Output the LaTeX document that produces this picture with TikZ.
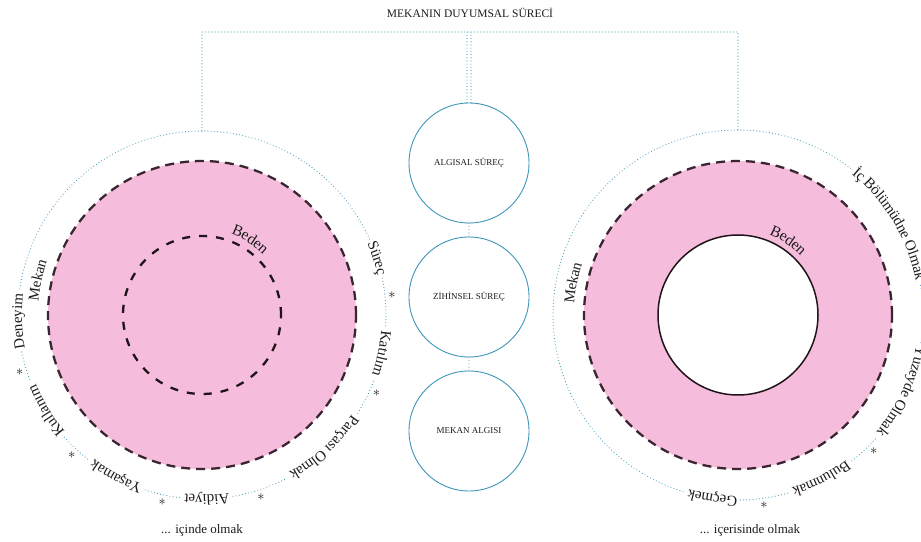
\documentclass[tikz,border=0pt]{standalone}
\usepackage{fontspec}
\setmainfont{Liberation Serif}
\usetikzlibrary{decorations.text,calc}
\definecolor{dotblue}{HTML}{4A9FBE}
\definecolor{ringblue}{HTML}{3F97BA}
\definecolor{pinkfill}{HTML}{F6BCDC}
\definecolor{dashcol}{HTML}{3A2633}
\definecolor{innercol}{HTML}{1E1419}
\definecolor{txt}{HTML}{1C1C1C}
\newcommand\lblfont{\fontsize{15}{17}\selectfont\color{txt}}
\newcommand\bedenfont{\fontsize{15.5}{17}\selectfont\color{txt}}
% center, radius, angle, halfspan of path, font, text
\newcommand\arclbl[6]{%
  \path[decorate,decoration={text along path,text={|#5|#6},text align=center,raise=-4pt}]
    ([shift={(#3+#4:#2)}]#1) arc[start angle=#3+#4,end angle=#3-#4,radius=#2];}
% center, start, end, radius
\newcommand\dotarc[4]{%
  \draw[dotline] ([shift={(#2:#4)}]#1) arc[start angle=#2,end angle=#3,radius=#4];}
\begin{document}
\begin{tikzpicture}[x=1pt,y=1pt,
  dotline/.style={draw=dotblue,line width=1.15pt,line cap=round,dash pattern=on 0pt off 3.2pt},
  pinkdash/.style={draw=dashcol,line width=2.3pt,dash pattern=on 9pt off 6pt},
  innerdash/.style={draw=innercol,line width=2.3pt,dash pattern=on 8pt off 9pt},
  innersolid/.style={draw=innercol,line width=1.5pt,fill=white},
  midc/.style={circle,draw=ringblue,line width=0.9pt,fill=white,minimum size=120pt,inner sep=0pt,
    font=\fontsize{9}{10}\selectfont,text=txt},
  starnode/.style={inner sep=0pt,font=\fontsize{14}{14}\selectfont,text=txt},
  bottomlbl/.style={inner sep=0pt,font=\fontsize{13}{15}\selectfont,text=txt}]
\useasboundingbox (0,0) rectangle (921,541);
\fill[white] (0,0) rectangle (921,541);

\coordinate (L) at (202,226);
\coordinate (R) at (738,226);
\coordinate (lt) at (202,410);
\coordinate (rt) at (738,411);
\coordinate (tl) at (202,509);
\coordinate (tr) at (738,509);

% title
\node[inner sep=0pt,font=\fontsize{11.5}{13}\selectfont,text=txt] (title) at (470,528) {MEKANIN DUYUMSAL SÜRECİ};

% ---------- left figure ----------
\fill[pinkfill] (L) circle[radius=154];
\draw[pinkdash] (L) circle[radius=154];
\draw[innerdash] (L) circle[radius=79];

\dotarc{L}{24.4}{172.4}{184}
\dotarc{L}{191.6}{201.4}{184}
\dotarc{L}{221.6}{232}{184}
\dotarc{L}{252}{263.3}{184}
\dotarc{L}{279.7}{297.4}{184}
\dotarc{L}{327.8}{339.4}{184}
\dotarc{L}{356.6}{371.6}{184}

\arclbl{L}{184}{18}{30}{\lblfont}{Süreç}
\arclbl{L}{184}{348}{30}{\lblfont}{Katılım}
\arclbl{L}{184}{312.6}{35}{\lblfont}{Parçası Olmak}
\arclbl{L}{184}{271.5}{30}{\lblfont}{Aidiyet}
\arclbl{L}{184}{242}{30}{\lblfont}{Yaşamak}
\arclbl{L}{184}{211.5}{30}{\lblfont}{Kullanım}
\arclbl{L}{184}{182}{30}{\lblfont}{Deneyim}
\arclbl{L}{168}{168}{30}{\lblfont}{Mekan}
\arclbl{L}{90}{57.5}{50}{\bedenfont}{Beden}

\node[starnode] (ls1) at ([shift={(6:191)}]L) {$\ast$};
\node[starnode] (ls2) at ([shift={(336:191)}]L) {$\ast$};
\node[starnode] (ls3) at ([shift={(288:191)}]L) {$\ast$};
\node[starnode] (ls4) at ([shift={(258:191)}]L) {$\ast$};
\node[starnode] (ls5) at ([shift={(227:191)}]L) {$\ast$};
\node[starnode] (ls6) at ([shift={(197.5:191)}]L) {$\ast$};

\node[bottomlbl] (lbot) at (202,11) {... içinde olmak};

% ---------- right figure ----------
\fill[pinkfill] (R) circle[radius=154];
\draw[pinkdash] (R) circle[radius=154];
\draw[innersolid] (R) circle[radius=80];

\dotarc{R}{52.5}{253.3}{185}
\dotarc{R}{270.7}{286}{185}
\dotarc{R}{308}{318.6}{185}
\dotarc{R}{351.4}{369.5}{185}

\arclbl{R}{185}{31}{45}{\lblfont}{İç Bölümüdne Olmak}
\arclbl{R}{185}{335}{35}{\lblfont}{Yüzeyde Olmak}
\arclbl{R}{185}{297}{30}{\lblfont}{Bulunmak}
\arclbl{R}{185}{262}{30}{\lblfont}{Geçmek}
\arclbl{R}{168}{169}{30}{\lblfont}{Mekan}
\arclbl{R}{90}{56}{50}{\bedenfont}{Beden}

\node[starnode] (rs1) at ([shift={(355:192)}]R) {$\ast$};
\node[starnode] (rs2) at ([shift={(315:192)}]R) {$\ast$};
\node[starnode] (rs3) at ([shift={(277.8:192)}]R) {$\ast$};

\node[bottomlbl] (rbot) at (750,11) {... içerisinde olmak};

% ---------- center column ----------
\node[midc] (c1) at (469,378) {ALGISAL SÜREÇ};
\node[midc] (c2) at (469,244) {ZİHİNSEL SÜREÇ};
\node[midc] (c3) at (469,110) {MEKAN ALGISI};

% ---------- connectors ----------
\draw[dotline] (lt) -- (tl) -- (tr) -- (rt);
\draw[dotline] ([xshift=-2pt]c1.north) -- ([xshift=-2pt]c1.north |- tl);
\draw[dotline] ([xshift=2pt]c1.north) -- ([xshift=2pt]c1.north |- tl);
\draw[dotline] (c1.south) -- (c2.north);
\draw[dotline] (c2.south) -- (c3.north);
\end{tikzpicture}
\end{document}
